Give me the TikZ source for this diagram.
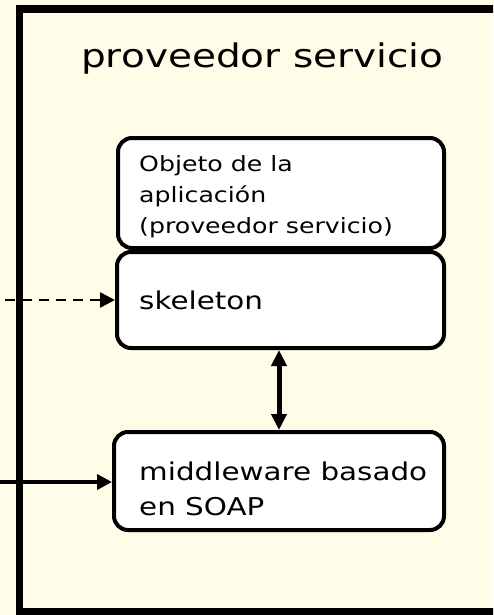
\documentclass[tikz,border=0pt]{standalone}
\usepackage{fontspec}
\setmainfont[FakeStretch=1.2]{DejaVu Sans}
\usetikzlibrary{arrows.meta}
\definecolor{bgyellow}{RGB}{255,253,231}
\tikzset{
  box/.style={draw=black, line width=4pt, fill=white, rounded corners=14pt,
    inner sep=0pt, anchor=center},
  boxtext/.style={anchor=west, align=left, inner sep=0pt},
  conn/.style={line width=3.5pt},
  tip/.style={-{Triangle[length=15pt,width=15pt]}},
}
\begin{document}
\begin{tikzpicture}[x=1pt,y=-1pt]
\fill[bgyellow] (0,0) rectangle (493,615);
\useasboundingbox (0,0) rectangle (493,615);
\begin{scope}
\clip (0,0) rectangle (493,615);
\draw[line width=7.5pt, fill=bgyellow] (19.5,9) rectangle (520,612);
\end{scope}
\node[anchor=base west, font=\fontsize{32.5}{36}\selectfont, inner sep=0pt] (title) at (81,68) {proveedor servicio};

\node[box, minimum width=326pt, minimum height=110pt] (obj) at (281,193) {};
\node[box, minimum width=327pt, minimum height=96pt] (skel) at (280.5,300) {};
\node[box, minimum width=330pt, minimum height=98pt] (mw) at (279,481) {};

\node[boxtext, font=\fontsize{21}{31}\selectfont] (objt) at (139,197)
  {Objeto de la\\aplicación\\(proveedor servicio)};
\node[boxtext, font=\fontsize{24.5}{30}\selectfont] (skelt) at (139,300) {skeleton};
\node[boxtext, font=\fontsize{24.5}{35}\selectfont] (mwt) at (139,489)
  {middleware basado\\en SOAP};

\coordinate (din) at (5,300);
\coordinate (sin) at (0,482);
\draw[line width=2.5pt, dash pattern=on 10pt off 7pt, tip] (din) -- (skel.west);
\draw[conn, tip] (sin) -- (mw.west |- sin);
\draw[line width=5pt, {Triangle[length=16pt,width=15pt]}-{Triangle[length=16pt,width=15pt]}]
  (skel.south -| 279,0) -- (mw.north -| 279,0);
\end{tikzpicture}
\end{document}
